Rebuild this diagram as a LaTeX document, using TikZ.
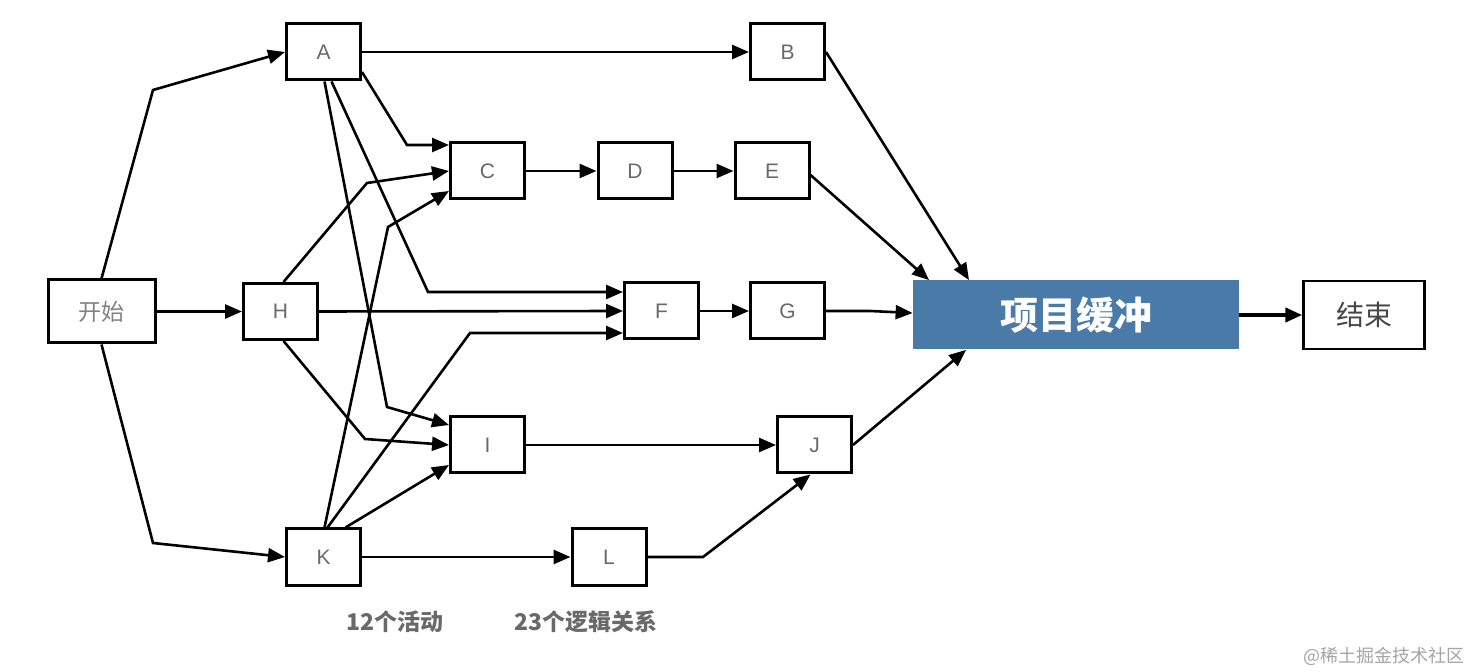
\documentclass[tikz,border=0pt]{standalone}
\usepackage{fontspec}
\setmainfont{Liberation Sans}
\newfontfamily\cjk{Noto Sans CJK SC}
\usetikzlibrary{arrows.meta}
\definecolor{bufblue}{RGB}{74,122,168}
\definecolor{txtgray}{RGB}{105,105,105}
\definecolor{lblgray}{RGB}{105,105,105}
\definecolor{wmgray}{RGB}{165,165,165}
\begin{document}
\begin{tikzpicture}[x=0.5pt,y=-0.5pt,
  box/.style={draw=black, line width=1.5pt, fill=white, minimum width=37pt,
    minimum height=28pt, inner sep=0pt, text=txtgray,
    font=\fontsize{10.5}{12}\selectfont},
  conn/.style={line width=1.3pt, -{Triangle[length=8.5pt,width=7pt]}},
  lbl/.style={font=\cjk\bfseries\fontsize{11.5}{13}\selectfont, text=lblgray}]
\useasboundingbox[fill=white] (0,0) rectangle (1470,672);
% nodes
\node[box, minimum width=53.5pt, minimum height=31.5pt, text={rgb,255:red,130;green,130;blue,130},
  font=\cjk\fontsize{11.5}{13}\selectfont] (start) at (101.5,311.5) {开始};
\node[box] (A) at (323.5,52) {A};
\node[box] (H) at (280.5,311.5) {H};
\node[box] (K) at (323.5,557) {K};
\node[box] (C) at (487.5,171) {C};
\node[box] (D) at (635,171) {D};
\node[box] (E) at (772,171) {E};
\node[box] (B) at (787.5,52) {B};
\node[box] (F) at (661.5,311) {F};
\node[box] (G) at (787.5,311) {G};
\node[box] (I) at (487.5,445) {I};
\node[box] (J) at (814.5,445) {J};
\node[box] (L) at (609,557) {L};
\node[fill=bufblue, minimum width=163pt, minimum height=34.5pt, inner sep=0pt, text=white,
  font=\cjk\bfseries\fontsize{19}{21}\selectfont] (buf) at (1076,315) {项目缓冲};
\node[box, line width=1.2pt, minimum width=60.5pt, minimum height=34pt,
  text={rgb,255:red,70;green,70;blue,70}, font=\cjk\fontsize{14}{16}\selectfont] (fin) at (1364,315) {结束};
\node[lbl] (lab1) at (395,622) {12个活动};
\node[lbl] (lab2) at (586,622) {23个逻辑关系};
\node[font=\cjk\fontsize{9}{11}\selectfont, text=wmgray, inner sep=0pt] (wm) at (1384,656) {@稀土掘金技术社区};
% connectors
\draw[conn] (start.north) -- (153,90) -- (A.west);
\draw[conn] (start.east) -- (H.west);
\draw[conn] (start.south) -- (153,543) -- (K.west);
\draw[conn] (A.east) -- (B.west);
\draw[conn] ([yshift=-10pt]A.east) -- (407,145) -- ([yshift=13pt]C.west);
\draw[conn] ([xshift=4pt]A.south) -- (428,292) -- ([yshift=9.5pt]F.west);
\draw[conn] ([xshift=0.5pt]A.south) -- (387,407) -- ([yshift=10pt]I.west);
\draw[conn] ([xshift=1.5pt]H.north) -- (367,183) -- (C.west);
\draw[conn] (H.east) -- (F.west);
\draw[conn] ([xshift=1.5pt]H.south) -- (365,439) -- (I.west);
\draw[conn] ([xshift=0.5pt]K.north) -- (388,227) -- ([yshift=-10pt]C.west);
\draw[conn] ([xshift=2pt]K.north) -- (470,333) -- ([yshift=-11pt]F.west);
\draw[conn] ([xshift=11pt]K.north) -- ([yshift=-10pt]I.west);
\draw[conn] (K.east) -- (L.west);
\draw[conn] (C.east) -- (D.west);
\draw[conn] (D.east) -- (E.west);
\draw[conn] (F.east) -- (G.west);
\draw[conn] (I.east) -- (J.west);
\draw[conn] (L.east) -- (703,557) -- ([xshift=-2pt]J.south);
\draw[conn] (B.east) -- ([xshift=-53.5pt]buf.north);
\draw[conn] ([yshift=-2pt]E.east) -- ([xshift=-73.5pt]buf.north);
\draw[conn] (G.east) -- (870,311) -- ([yshift=1pt]buf.west);
\draw[conn] (J.east) -- ([xshift=-55pt]buf.south);
\draw[conn, line width=2pt] (buf.east) -- (fin.west);
\end{tikzpicture}
\end{document}
